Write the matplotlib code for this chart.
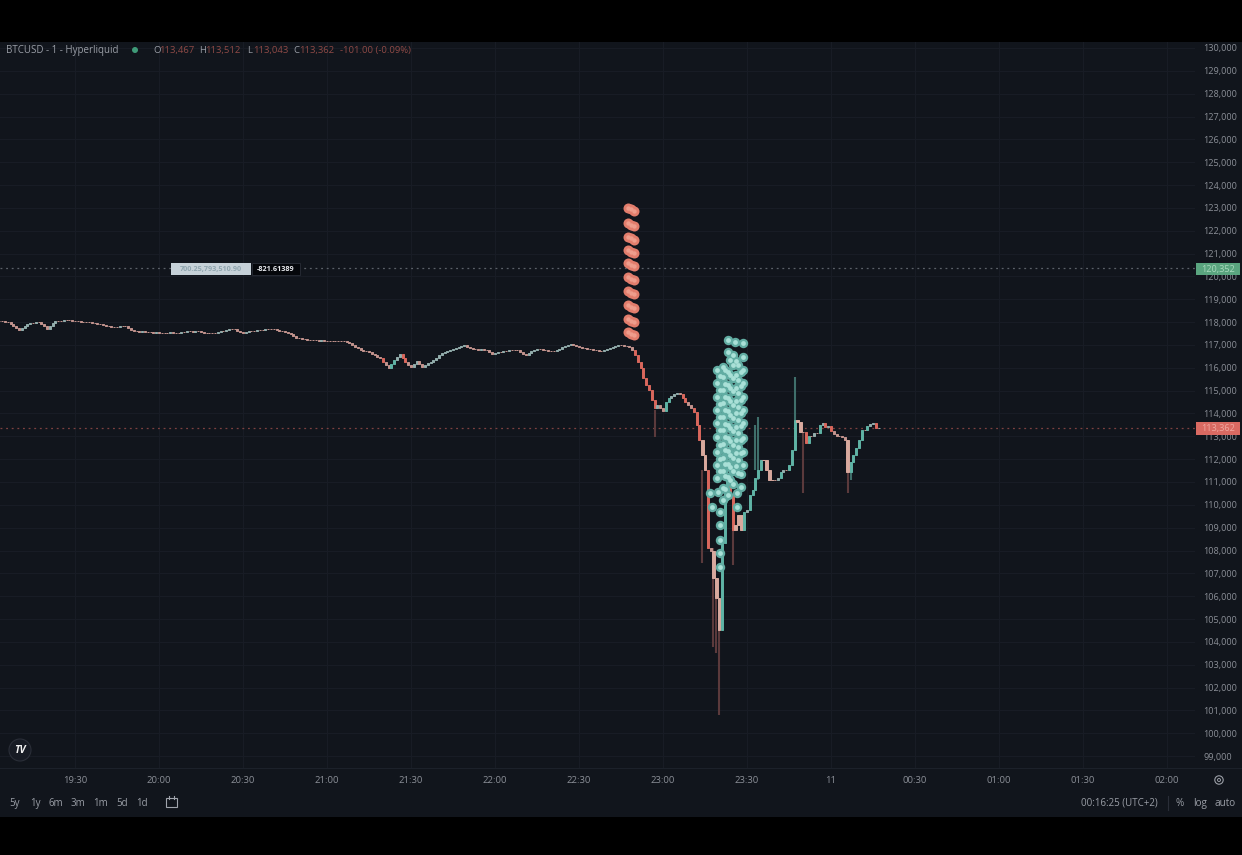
import matplotlib
matplotlib.use("Agg")
import matplotlib.pyplot as plt
from matplotlib.patches import Rectangle, Circle

plt.rcParams['font.family'] = ['Open Sans', 'DejaVu Sans']

# ---- data: 1-minute closes, bar 0 = 19:03 ----
close_calm = [
 118050,118050,118000,118000,117920,117830,117740,117650,117740,117830,
 117920,117960,117960,118000,118000,117920,117830,117700,117830,117960,
 118050,118050,118050,118090,118090,118090,118050,118050,118050,118000,
 118000,118000,118000,117960,117960,117920,117920,117870,117830,117830,
 117790,117790,117790,117830,117830,117830,117740,117650,117610,117610,
 117570,117610,117570,117570,117570,117520,117570,117520,117520,117520,
 117520,117570,117520,117520,117520,117570,117570,117610,117610,117570,
 117610,117610,117570,117520,117520,117520,117520,117520,117570,117610,
 117610,117650,117700,117700,117700,117610,117570,117520,117570,117610,
 117610,117610,117650,117650,117650,117700,117700,117700,117700,117650,
 117610,117610,117570,117520,117480,117390,117300,117300,117260,117260,
 117220,117220,117220,117220,117170,117220,117170,117170,117170,117170,
 117170,117170,117170,117170,117130,117090,117000,116910,116870,116780,
 116730,116730,116690,116600,116560,116470,116430,116250,116120,115990,
 116170,116340,116470,116600,116430,116250,116120,116030,116170,116300,
 116170,116030,116120,116210,116250,116340,116430,116560,116650,116690,
 116730,116780,116820,116870,116910,116950,117000,116910,116870,116820,
 116820,116780,116820,116780,116780,116690,116600,116650,116690,116690,
 116730,116730,116780,116780,116780,116780,116690,116600,116560,116650,
 116730,116780,116820,116820,116780,116780,116730,116730,116730,116780,
 116820,116910,116950,117000,117040,117000,116950,116910,116870,116870,
 116820,116820,116780,116780,116730,116730,116780,116820,116870,116910,
 116950,117000,117000,116950,116950,116910,116780]
close_drop = [
 116560,116250,115990,115550,115250,115030,114590,114240,114370,114240,
 114110,114500,114680,114760,114850,114900,114850,114680,114500,114370,
 114240,114060,113500,112840,112180,111530,108110,108000,106800,105920]
close_spike = [104520,108330,110210,111090,110430,108900,109120,109560,108900,
 109690,109770,110430,110650,111180,111530,111960,111960,111530,111090,
 111090,111090,111180,111440,111530,111530,111740]
close_recover = [
 112400,113710,113630,113190,113190,112710,113010,113010,113150,113150,
 113500,113580,113410,113450,113230,113100,113010,113010,112970,112840,
 111440,111880,112180,112490,112840,113280,113280,113450,113540,113580,
 113360,113362]
closes = close_calm + close_drop + close_spike + close_recover

wick_bars = [234, 251, 255, 256, 257, 262, 270, 271, 284, 287, 303, 304]
wick_high = [114150,111530,108110,105920,104520,108900,113500,113850,115600,113190,111440,111880]
wick_low  = [112970,107450,103780,103500,100800,107370,111530,111090,113710,110520,110520,111090]
pale_bars = [251,252,255,256,257,263,264,265,273,274,275,276,285,286,303]

red_col_bar = [224.5, 225.6, 226.7]
red_col_a = [123000,122340,121730,121160,120590,119970,119360,118750,118130,117570]
red_col_b = [122930,122270,121660,121090,120520,119900,119290,118680,118060,117500]
red_col_c = [122860,122200,121590,121020,120450,119830,119220,118610,117990,117430]

teal_columns = {
 253.8: [110520],
 254.5: [109905],
 256.3: [115900,115330,114720,114150,113580,112970,112310,111740,111180],
 256.6: [110560],
 257.4: [109690,109120,108460,107890,107280],
 257.5: [115620,115020,114430,113860,113280,112640,112020,111460],
 258.4: [116030,115600,115030,114460,113850,113280,112660,112050,111480,110740,110210],
 259.3: [115900,115280,114700,114130,113540,112980,112400,111800,111250,110700],
 260.2: [117220,116690,115820,115250,114680,114110,113500,112930,112360,111790,111220,110430],
 261.1: [116350,115680,115100,114530,113950,113370,112800,112200,111650,111100],
 262.0: [116560,116120,115550,114980,114370,113800,113230,112620,112050,111480,110910],
 262.7: [117130],
 262.9: [116300,115700,115120,114550,114000,113400,112850,112270,111700],
 263.4: [110520,109905],
 263.8: [116120,115470,114900,114280,113710,113150,112530,111960,111390],
 264.7: [115800,115200,114600,114000,113450,112850,112250,111350,110780],
 265.6: [117090,116470,115900,115330,114720,114150,113580,112930,112310,111740],
}

y_ticks = list(range(99000, 130001, 1000))
x_tick_bars = [27,57,87,117,147,177,207,237,267,297,327,357,387,417]
x_tick_labels = ["19:30","20:00","20:30","21:00","21:30","22:00","22:30","23:00","23:30","11","00:30","01:00","01:30","02:00"]
range_labels = ["5y","1y","6m","3m","1m","5d","1d"]
position_price = 120352
last_price = 113362
ohlc_text = ["113,467","113,512","113,043","113,362"]

# ---- style ----
W, H = 1242, 855
BG = "#11151c"
GRID = "#181c25"
TXT = "#8b8f97"
RED = "#d9675c"
TEAL = "#5fb3a5"

fig = plt.figure(figsize=(W/100, H/100), dpi=100, facecolor="black")

def box(l, t, r, b):
    return [l/W, 1-b/H, (r-l)/W, (b-t)/H]

back = fig.add_axes(box(0,0,W,H), zorder=0)
back.set_xlim(0,W); back.set_ylim(H,0); back.axis("off")
back.add_patch(Rectangle((0,42),W,775,color=BG,lw=0))

ax = fig.add_axes(box(0,42,1195,768), zorder=1)
ax.patch.set_alpha(0)
ax.set_xlim(0.214, 427)
px_price = lambda y: 130000-(y-48)*43.78
ax.set_ylim(px_price(768), px_price(42))
for s in ax.spines.values():
    s.set_visible(False)
ax.yaxis.tick_right()
ax.set_yticks(y_ticks)
ax.set_yticklabels([f"{v:,}" for v in y_ticks], fontsize=6.6, color=TXT)
ax.set_xticks(x_tick_bars)
ax.set_xticklabels(x_tick_labels, fontsize=6.8, color=TXT)
ax.tick_params(axis="both", length=0)
ax.tick_params(axis="y", pad=6)
ax.tick_params(axis="x", pad=6)
ax.grid(True, color=GRID, lw=0.8)
ax.set_axisbelow(True)

# candles
opens = [closes[0]] + closes[:-1]
for b, hi, lo in zip(wick_bars, wick_high, wick_low):
    up = closes[b] > opens[b]
    ax.plot([b,b],[lo,hi],color="#3f6f6b" if up else "#5b3a3c",lw=1.5,zorder=3,solid_capstyle="butt")
for i,(o,c) in enumerate(zip(opens,closes)):
    up = c > o
    small = abs(c-o) < 150
    if i in pale_bars:
        col = "#d8a99e"
    elif small:
        col = "#93aeac" if up else "#c3948e"
    else:
        col = TEAL if up else RED
    ax.bar(i, abs(c-o), bottom=min(o,c), width=1.0 if i in pale_bars else 0.75,
           color=col, edgecolor=col, lw=0.7, zorder=4)

# price lines
ax.axhline(position_price, color="#5c6169", lw=0.9, ls=(0,(1.5,3)), zorder=2)
ax.axhline(last_price, color="#7d4140", lw=0.9, ls=(0,(1.5,3)), zorder=2)

# bubbles
for col_bar, col in zip(red_col_bar, [red_col_a, red_col_b, red_col_c]):
    ax.scatter([col_bar]*len(col), col, s=52, color="#e27d6c", lw=0, zorder=6)
for col_bar, col in zip(red_col_bar, [red_col_a, red_col_b, red_col_c]):
    ax.scatter([col_bar]*len(col), col, s=10, color="#ee9d8c", lw=0, zorder=7)
for bar, prices in teal_columns.items():
    ax.scatter([bar]*len(prices), prices, s=46, color="#62ada3", lw=0, zorder=6)
for bar, prices in teal_columns.items():
    ax.scatter([bar]*len(prices), prices, s=12, color="#a9e0d7", lw=0, zorder=7)

# overlay
ov = fig.add_axes(box(0,0,W,H), zorder=2)
ov.set_xlim(0,W); ov.set_ylim(H,0); ov.axis("off")
ov.patch.set_alpha(0)

def t(x,y,s,color=TXT,size=6.8,ha="left",**kw):
    ov.text(x,y,s,color=color,fontsize=size,ha=ha,va="center",**kw)

# header
t(6,50.5,"BTCUSD - 1 - Hyperliquid",color="#9a9ea6",size=7)
ov.add_patch(Circle((135,50),3,color="#3f9a78",lw=0))
RV = "#8f4a46"
for x,lab,val in zip([153,199,247,293],"OHLC",ohlc_text):
    t(x,50.5,lab,color="#9a9ea6",size=6.8)
    t(x+6,50.5,val,color=RV,size=6.8)
t(340,50.5,"-101.00 (-0.09%)",color=RV,size=6.8)

# position widget
ov.add_patch(Rectangle((171,263),80,12,color="#c6d1d8",lw=0))
ov.add_patch(Rectangle((252,263),48,12,facecolor="#05070b",edgecolor="#2a2e38",lw=0.6))
t(211,269,"700.25,793,510.90",color="#8fa5ae",size=5.2,ha="center",fontweight="bold")
t(276,269,"-821.61389",color="#e8eaee",size=5.2,ha="center",fontweight="bold")

# price labels
ov.add_patch(Rectangle((1196,263),44,12,color="#5aa57f",lw=0))
t(1218,269,f"{position_price:,}",color="#a9d8bd",size=6.6,ha="center")
ov.add_patch(Rectangle((1196,422),44,13,color="#d96a62",lw=0))
t(1218,428.5,f"{last_price:,}",color="#f0a8a0",size=6.6,ha="center")

# TV logo
ov.add_patch(Circle((20,750),11,facecolor="#171b24",edgecolor="#2a2e38",lw=0.8))
t(20,750.5,"TV",color="#f0f0f0",size=7.5,ha="center",fontweight="bold",style="italic")

# bottom toolbar
ov.plot([0,1242],[768,768],color="#1c212a",lw=0.8)
for x,s in zip([15,35,56,78,101,122,142],range_labels):
    t(x,803,s,color="#9a9ea6",size=7,ha="center")
ov.add_patch(Rectangle((166,798),11,9,facecolor="none",edgecolor="#a0a4ac",lw=0.8))
ov.plot([169,169],[796,799],color="#a0a4ac",lw=0.8)
ov.plot([174,174],[796,799],color="#a0a4ac",lw=0.8)
t(1119.5,803,"00:16:25 (UTC+2)",color="#9a9ea6",size=7,ha="center")
ov.plot([1168,1168],[796,810],color="#2a2e38",lw=0.8)
t(1180,803,"%",color="#9a9ea6",size=7.2,ha="center")
t(1200,803,"log",color="#9a9ea6",size=7.2,ha="center")
t(1225,803,"auto",color="#9a9ea6",size=7.2,ha="center")
ov.add_patch(Circle((1219,780),4.2,facecolor="none",edgecolor="#9a9ea6",lw=0.8))
ov.add_patch(Circle((1219,780),1.5,facecolor="none",edgecolor="#9a9ea6",lw=0.7))

fig.savefig("out.png", dpi=100, facecolor="black")
